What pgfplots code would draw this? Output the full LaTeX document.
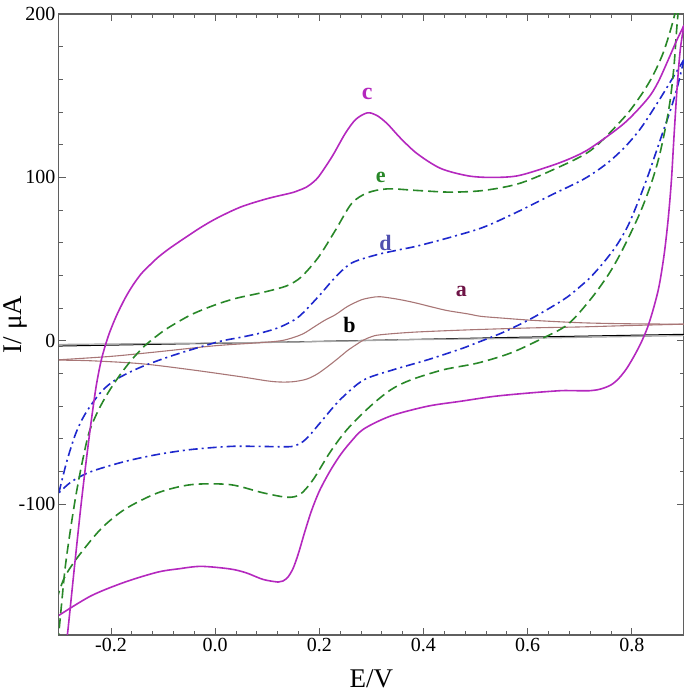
\documentclass[border=0pt]{standalone}
\usepackage{fontspec}
\setmainfont{Liberation Serif}
\usepackage{pgfplots}
\pgfplotsset{compat=1.18}
\definecolor{cmag}{RGB}{180,40,190}
\definecolor{cgreen}{RGB}{40,135,40}
\definecolor{cblue}{RGB}{30,40,205}
\definecolor{cbrown}{RGB}{168,118,118}
\definecolor{clabA}{RGB}{110,20,70}
\definecolor{clabD}{RGB}{80,80,175}
\definecolor{axgray}{RGB}{95,95,95}
\begin{document}
\begin{tikzpicture}
\begin{axis}[name=ax,
  width=625pt, height=621pt, scale only axis,
  xmin=-0.3, xmax=0.9, ymin=-180, ymax=200,
  xtick={-0.2,0,0.2,0.4,0.6,0.8}, ytick={-100,0,100,200},
  minor x tick num=4, minor y tick num=4,
  tick align=inside, major tick length=7pt, minor tick length=4pt,
  axis line style={axgray, line width=1.2pt},
  every tick/.style={axgray, line width=0.9pt},
  /pgf/number format/assume math mode=true,
  xticklabel style={font=\fontsize{20}{24}\selectfont, /pgf/number format/.cd, fixed, fixed zerofill, precision=1},
  yticklabel style={font=\fontsize{20}{24}\selectfont},
  xlabel={E/V}, ylabel={I/ μA},
  xlabel style={font=\fontsize{27}{30}\selectfont, at={(axis description cs:0.5,-0.07)}, anchor=center},
  ylabel style={font=\fontsize{27}{30}\selectfont, at={(axis description cs:-0.07,0.5)}, anchor=center},
]
% ---- b (black / grey)
\addplot[black, line width=1pt] coordinates {(-0.3,-3.2) (0.125,-0.8) (0.6,2.3) (0.9,4)};
\addplot[gray!70, line width=1.2pt] coordinates {(0.9,3.2) (0.6,1.6) (0.35,0.6) (0.25,-0.2) (0.1,-1) (-0.3,-2.2)};
% ---- a (brown)
\addplot[cbrown, line width=1.1pt, smooth, tension=0.5] coordinates {
(-0.3,-11.6) (-0.2,-9.5) (-0.11,-6.7) (0.0,-3) (0.083,-1.2) (0.125,0) (0.15,2) (0.17,4.5) (0.19,8.5) (0.21,12.5) (0.231,16) (0.254,21) (0.28,25) (0.3,26.5) (0.317,27) (0.35,25.5) (0.381,23.5) (0.419,20.5) (0.446,18.5) (0.485,16.5) (0.51,15) (0.548,14) (0.612,12.5) (0.708,11) (0.804,10.4) (0.9,10.2)};
\addplot[cbrown, line width=1.1pt, smooth, tension=0.5] coordinates {
(0.9,10.2) (0.8,9.4) (0.7,8.5) (0.606,7.9) (0.485,6.7) (0.381,5.3) (0.317,3.7) (0.3,2.5) (0.285,0.5) (0.27,-2.5) (0.254,-6) (0.235,-11) (0.215,-16) (0.195,-20.5) (0.175,-23.5) (0.15,-25) (0.125,-25.2) (0.1,-24.5) (0.05,-22) (-0.046,-17.7) (-0.142,-14) (-0.238,-12.2) (-0.3,-11.8)};
% ---- d (blue dash-dot)
\addplot[cblue, line width=1.6pt, dash pattern=on 9pt off 4pt on 2pt off 4pt, smooth, tension=0.5] coordinates {
(-0.3,-93) (-0.285,-74) (-0.268,-57) (-0.25,-45) (-0.221,-32) (-0.192,-24) (-0.142,-16) (-0.077,-8.5) (0.006,-0.6) (0.05,2.2) (0.09,5) (0.125,8.5) (0.16,14.6) (0.198,27) (0.231,39) (0.262,47.6) (0.308,52.5) (0.35,55.5) (0.388,58) (0.452,63.4) (0.515,69.5) (0.581,79) (0.644,89) (0.708,99) (0.75,108) (0.785,118) (0.817,130) (0.85,146) (0.875,159) (0.9,172)};
\addplot[cblue, line width=1.6pt, dash pattern=on 9pt off 4pt on 2pt off 4pt, smooth, tension=0.5] coordinates {
(0.9,172) (0.888,156) (0.875,142) (0.86,128) (0.845,114) (0.831,101) (0.812,85) (0.792,70) (0.77,58) (0.746,48) (0.721,39) (0.7,33) (0.677,27) (0.65,21.5) (0.612,14.5) (0.575,8.5) (0.548,4.5) (0.5,-1.5) (0.471,-5) (0.408,-11.6) (0.342,-17.7) (0.285,-24) (0.24,-36) (0.202,-50) (0.185,-56.5) (0.169,-61.6) (0.155,-64) (0.14,-64.8) (0.083,-64.6) (0.029,-64.6) (-0.046,-66.5) (-0.11,-69.5) (-0.173,-73.8) (-0.238,-80) (-0.275,-86) (-0.3,-93)};
% ---- e (green dashed)
\addplot[cgreen, line width=1.6pt, dash pattern=on 10pt off 5pt, smooth, tension=0.5] coordinates {
(-0.302,-185) (-0.296,-165) (-0.288,-139) (-0.278,-116) (-0.267,-94) (-0.255,-74) (-0.242,-56) (-0.225,-43) (-0.206,-32) (-0.183,-21) (-0.16,-11.5) (-0.135,-3) (-0.11,3.5) (-0.09,8) (-0.046,16) (0,22) (0.04,26) (0.083,29) (0.115,31.5) (0.14,34) (0.165,39) (0.198,51) (0.231,67.7) (0.262,84) (0.292,90.5) (0.331,93) (0.388,92) (0.452,91) (0.515,92) (0.581,96) (0.644,104) (0.721,116.5) (0.785,136.6) (0.817,150) (0.84,162) (0.86,176) (0.876,192) (0.888,207) (0.892,212)};
\addplot[cgreen, line width=1.6pt, dash pattern=on 10pt off 5pt, smooth, tension=0.5] coordinates {
(0.892,212) (0.886,190) (0.881,168) (0.874,148) (0.865,131) (0.852,112) (0.837,96) (0.818,80) (0.798,66) (0.776,52) (0.754,40) (0.721,25.5) (0.677,10) (0.625,1) (0.567,-7.5) (0.504,-13.6) (0.438,-17.7) (0.375,-24) (0.337,-30) (0.298,-40) (0.254,-54) (0.221,-68) (0.188,-85) (0.163,-94) (0.138,-95.7) (0.092,-93) (0.029,-88) (-0.046,-88) (-0.11,-93) (-0.173,-103) (-0.219,-115) (-0.263,-132) (-0.288,-144) (-0.3,-154) (-0.305,-160)};
% ---- c (magenta)
\addplot[cmag, line width=1.6pt, smooth, tension=0.5] coordinates {
(-0.2865,-185) (-0.283,-178) (-0.27,-138) (-0.258,-102) (-0.247,-72) (-0.237,-47) (-0.228,-27) (-0.218,-11) (-0.205,3) (-0.19,15) (-0.173,26) (-0.158,34) (-0.142,41) (-0.125,46.5) (-0.11,51) (-0.09,56) (-0.065,61.5) (-0.027,69.5) (0.006,75.5) (0.05,82) (0.1,87) (0.146,90.5) (0.16,92) (0.175,94) (0.188,97) (0.2,101) (0.225,113) (0.25,127) (0.27,135.5) (0.292,139.5) (0.31,138) (0.33,133) (0.356,124) (0.388,114.5) (0.433,105.5) (0.485,101) (0.529,100) (0.581,101) (0.644,107) (0.685,112) (0.721,118) (0.785,133) (0.83,148) (0.85,158) (0.87,172) (0.885,183) (0.9,193)};
\addplot[cmag, line width=1.6pt, smooth, tension=0.5] coordinates {
(0.9,193) (0.893,178) (0.887,155) (0.881,125) (0.876,98) (0.87,75) (0.863,55) (0.856,40) (0.85,30) (0.84,18) (0.83,8) (0.818,-1) (0.805,-9) (0.79,-17) (0.775,-23) (0.76,-27) (0.74,-29.5) (0.72,-30.5) (0.69,-30.5) (0.663,-30.5) (0.6,-32) (0.535,-34) (0.471,-37) (0.408,-40) (0.337,-46) (0.285,-54) (0.26,-62) (0.24,-70) (0.22,-80) (0.2,-92) (0.185,-104) (0.172,-117) (0.16,-130) (0.15,-139) (0.14,-144.5) (0.13,-147) (0.121,-147.6) (0.092,-146) (0.06,-142) (0.029,-139.6) (-0.027,-138) (-0.07,-139.5) (-0.11,-141.5) (-0.173,-147.6) (-0.238,-156) (-0.3,-168)};
% ---- labels
\node[text=cmag, font=\fontsize{24}{26}\selectfont\bfseries] at (axis cs:0.292,151) {c};
\node[text=cgreen, font=\fontsize{22}{24}\selectfont\bfseries] at (axis cs:0.318,100) {e};
\node[text=clabD, font=\fontsize{22}{24}\selectfont\bfseries] at (axis cs:0.327,60) {d};
\node[text=clabA, font=\fontsize{22}{24}\selectfont\bfseries] at (axis cs:0.473,30) {a};
\node[text=black, font=\fontsize{22}{24}\selectfont\bfseries] at (axis cs:0.258,10) {b};
\end{axis}
\path[use as bounding box] ([xshift=-58pt,yshift=-60pt]ax.south west) rectangle ([xshift=2pt,yshift=14pt]ax.north east);
\end{tikzpicture}
\end{document}
